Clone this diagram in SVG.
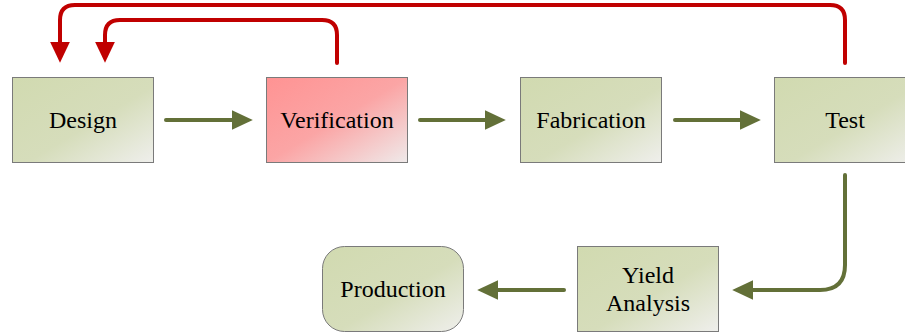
<svg xmlns="http://www.w3.org/2000/svg" width="905" height="333" viewBox="0 0 905 333">
  <style>
    .box { stroke: #7a7a7a; stroke-width: 1; }
    .g { fill: url(#gradG); }
    .r { fill: url(#gradR); }
    text { font-family: "Liberation Serif", "Times New Roman", "DejaVu Serif", serif; font-size: 24px; fill: #000; text-anchor: middle; dominant-baseline: central; }
    .cg { fill: none; stroke: #637038; stroke-width: 4; stroke-linecap: round; }
    .cr { fill: none; stroke: #c00000; stroke-width: 4; stroke-linecap: round; }
  </style>
  <defs>
    <linearGradient id="gradG" x1="0" y1="0" x2="1" y2="1">
      <stop offset="0" stop-color="#d1dab0"/>
      <stop offset="0.55" stop-color="#d6ddbb"/>
      <stop offset="1" stop-color="#efefec"/>
    </linearGradient>
    <linearGradient id="gradR" x1="0" y1="0" x2="1" y2="1">
      <stop offset="0" stop-color="#ff9393"/>
      <stop offset="0.5" stop-color="#fba5a5"/>
      <stop offset="1" stop-color="#efeaea"/>
    </linearGradient>
    <marker id="ag" markerUnits="userSpaceOnUse" markerWidth="22" markerHeight="22" viewBox="0 -10 20 20" refX="1" refY="0" orient="auto">
      <path d="M0,-9 L19,0 L0,9 z" fill="#637038"/>
    </marker>
    <marker id="ar" markerUnits="userSpaceOnUse" markerWidth="22" markerHeight="22" viewBox="0 -10 20 20" refX="1" refY="0" orient="auto">
      <path d="M0,-9 L19,0 L0,9 z" fill="#c00000"/>
    </marker>
  </defs>

  <g id="connectors">
    <path class="cg" d="M166,120 H233" marker-end="url(#ag)"/>
    <path class="cg" d="M420,120 H486" marker-end="url(#ag)"/>
    <path class="cg" d="M675,120 H741" marker-end="url(#ag)"/>
    <path class="cg" d="M845,175 V265 Q845,290 820,290 H752" marker-end="url(#ag)"/>
    <path class="cg" d="M564,290 H497" marker-end="url(#ag)"/>
    <path class="cr" d="M845,63 V20 Q845,5 830,5 H75 Q60,5 60,20 V43" marker-end="url(#ar)"/>
    <path class="cr" d="M337,63 V35 Q337,20 322,20 H120 Q105,20 105,35 V43" marker-end="url(#ar)"/>
  </g>

  <g id="design">
    <rect class="box g" x="12.5" y="77.5" width="141" height="85"/>
    <text x="83" y="120">Design</text>
  </g>
  <g id="verification">
    <rect class="box r" x="266.5" y="77.5" width="141" height="85"/>
    <text x="337" y="120">Verification</text>
  </g>
  <g id="fabrication">
    <rect class="box g" x="520.5" y="77.5" width="141" height="85"/>
    <text x="591" y="120">Fabrication</text>
  </g>
  <g id="test">
    <rect class="box g" x="774.5" y="77.5" width="141" height="85"/>
    <text x="845" y="120">Test</text>
  </g>
  <g id="yield-analysis">
    <rect class="box g" x="577.5" y="246.5" width="141" height="85"/>
    <text x="648" y="275">Yield</text>
    <text x="648" y="303">Analysis</text>
  </g>
  <g id="production">
    <rect class="box g" x="322.5" y="246.5" width="141" height="85" rx="22" ry="22"/>
    <text x="393" y="289">Production</text>
  </g>
</svg>
